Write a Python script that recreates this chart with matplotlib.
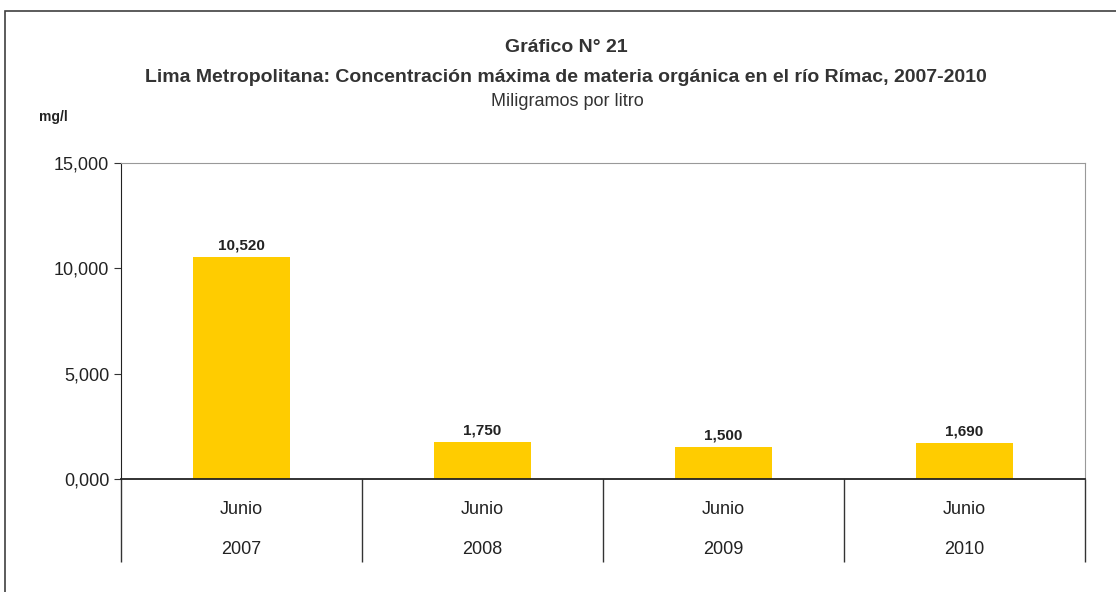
import matplotlib.pyplot as plt
from matplotlib import transforms
from matplotlib.patches import Rectangle

# Datos del grafico
meses = ["Junio", "Junio", "Junio", "Junio"]
anios = ["2007", "2008", "2009", "2010"]
valores = [10520, 1750, 1500, 1690]
etiquetas_valor = ["10,520", "1,750", "1,500", "1,690"]
ticks_y = [0, 5000, 10000, 15000]
etiquetas_y = ["0,000", "5,000", "10,000", "15,000"]

plt.rcParams['font.family'] = ['Liberation Sans', 'DejaVu Sans']

fig = plt.figure(figsize=(11.16, 5.92), dpi=100)
# marco exterior (solo se ven los bordes superior e izquierdo)
fig.patches.append(Rectangle((5 / 1116, -0.1), 1.2, (592 - 11) / 592 + 0.1,
                             transform=fig.transFigure, fill=False,
                             edgecolor='#404040', linewidth=1.2))

ax = fig.add_axes([121 / 1116, 1 - 479 / 592, (1085 - 121) / 1116, (479 - 163) / 592])
x = range(len(valores))
ax.bar(x, valores, width=0.4, color='#FFCC00')

for i, v in enumerate(valores):
    ax.annotate(etiquetas_valor[i], (i, v), xytext=(0, 3.5), textcoords='offset points',
                ha='center', va='bottom', fontsize=11, fontweight='bold', color='#222222')

ax.set_xlim(-0.5, len(valores) - 0.5)
ax.set_ylim(0, 15000)
ax.set_yticks(ticks_y)
ax.set_yticklabels(etiquetas_y, fontsize=13, color='#222222')
ax.tick_params(axis='y', length=5, color='#333333')

# separadores de categorias
ax.set_xticks([i - 0.5 for i in range(len(valores) + 1)])
ax.set_xticklabels([])
ax.tick_params(axis='x', length=60, width=1, color='#333333', direction='out')

trans = transforms.blended_transform_factory(ax.transData, ax.transAxes)
for i in x:
    ax.text(i, -31 / 316, meses[i], transform=trans, ha='center', va='center',
            fontsize=13, color='#222222')
    ax.text(i, -71 / 316, anios[i], transform=trans, ha='center', va='center',
            fontsize=13, color='#222222')

ax.spines['left'].set_color('#222222')
ax.spines['bottom'].set_color('#222222')
ax.spines['top'].set_color('#999999')
ax.spines['right'].set_color('#999999')
ax.spines['bottom'].set_linewidth(1.3)

fig.text(566 / 1116, 1 - 48 / 592, "Gráfico N° 21", ha='center', va='center',
         fontsize=14, fontweight='bold', color='#333333')
fig.text(566 / 1116, 1 - 77 / 592,
         "Lima Metropolitana: Concentración máxima de materia orgánica en el río Rímac, 2007-2010",
         ha='center', va='center', fontsize=14, fontweight='bold', color='#333333')
fig.text(567 / 1116, 1 - 101 / 592, "Miligramos por litro", ha='center', va='center',
         fontsize=13, color='#333333')
fig.text(39 / 1116, 1 - 117 / 592, "mg/l", ha='left', va='center', fontsize=10,
         fontweight='bold', color='#222222')

fig.savefig("out.png", dpi=100)
